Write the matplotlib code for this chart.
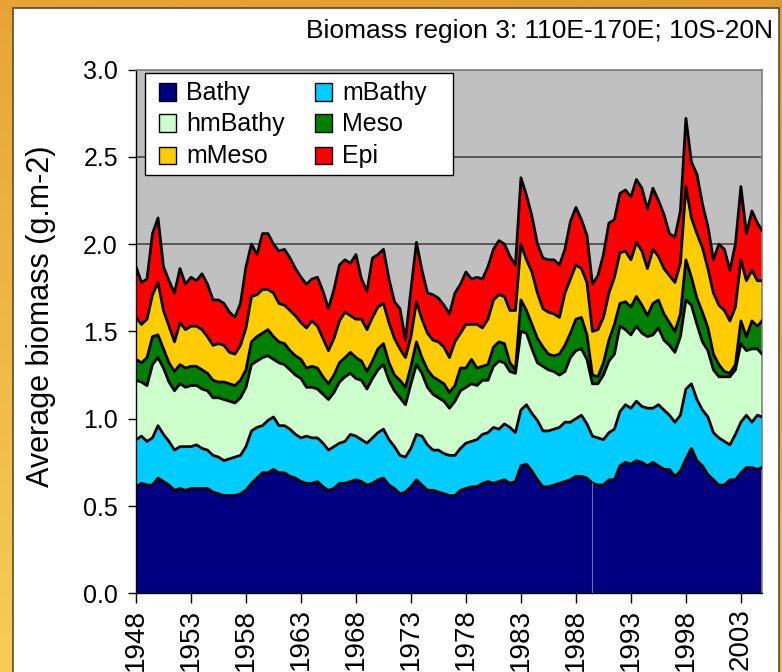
import numpy as np
import matplotlib
matplotlib.use("Agg")
import matplotlib.pyplot as plt
from matplotlib.patches import Rectangle

# ---------------- data (stacked totals, g.m-2) ----------------
years = np.append(np.arange(1948.0, 2005.0, 0.5), 2004 + 11 / 12)

bathy_top = [
    0.61, 0.63, 0.62, 0.62, 0.66, 0.64, 0.62, 0.59, 0.60, 0.59,
    0.60, 0.60, 0.60, 0.60, 0.58, 0.57, 0.56, 0.56, 0.56, 0.57,
    0.59, 0.63, 0.66, 0.69, 0.69, 0.71, 0.69, 0.69, 0.67, 0.66,
    0.64, 0.63, 0.63, 0.64, 0.61, 0.59, 0.60, 0.63, 0.63, 0.64,
    0.65, 0.64, 0.62, 0.63, 0.65, 0.66, 0.62, 0.60, 0.57, 0.58,
    0.61, 0.65, 0.62, 0.59, 0.59, 0.58, 0.57, 0.56, 0.56, 0.59,
    0.60, 0.61, 0.61, 0.63, 0.64, 0.63, 0.64, 0.65, 0.63, 0.64,
    0.73, 0.74, 0.70, 0.65, 0.61, 0.61, 0.62, 0.63, 0.64, 0.65,
    0.67, 0.67, 0.66, 0.63, 0.62, 0.62, 0.65, 0.65, 0.73, 0.75,
    0.74, 0.76, 0.75, 0.73, 0.75, 0.73, 0.71, 0.71, 0.67, 0.70,
    0.77, 0.83, 0.76, 0.73, 0.68, 0.65, 0.62, 0.62, 0.65, 0.65,
    0.69, 0.72, 0.72, 0.71, 0.72]

mbathy_top = [
    0.88, 0.90, 0.87, 0.89, 0.96, 0.91, 0.87, 0.82, 0.84, 0.84,
    0.84, 0.85, 0.83, 0.82, 0.79, 0.78, 0.76, 0.77, 0.78, 0.79,
    0.84, 0.93, 0.95, 0.96, 0.99, 1.01, 0.96, 0.96, 0.94, 0.91,
    0.89, 0.90, 0.89, 0.89, 0.86, 0.82, 0.84, 0.86, 0.87, 0.91,
    0.90, 0.88, 0.86, 0.89, 0.92, 0.94, 0.88, 0.84, 0.79, 0.78,
    0.83, 0.91, 0.90, 0.85, 0.82, 0.82, 0.80, 0.79, 0.79, 0.83,
    0.86, 0.87, 0.88, 0.91, 0.92, 0.95, 0.94, 0.97, 0.95, 0.92,
    1.05, 1.08, 1.03, 0.99, 0.93, 0.93, 0.94, 0.95, 0.98, 0.98,
    1.00, 1.02, 0.97, 0.90, 0.89, 0.88, 0.92, 0.94, 1.04, 1.08,
    1.06, 1.10, 1.07, 1.06, 1.06, 1.08, 1.05, 1.02, 0.98, 1.02,
    1.17, 1.20, 1.11, 1.05, 1.01, 0.92, 0.89, 0.87, 0.85, 0.91,
    0.98, 1.02, 0.98, 1.02, 1.01]

hmbathy_top = [
    1.22, 1.21, 1.19, 1.31, 1.35, 1.29, 1.21, 1.16, 1.20, 1.18,
    1.19, 1.19, 1.17, 1.16, 1.12, 1.12, 1.11, 1.10, 1.09, 1.12,
    1.18, 1.31, 1.33, 1.35, 1.36, 1.34, 1.32, 1.31, 1.28, 1.25,
    1.23, 1.18, 1.18, 1.17, 1.14, 1.11, 1.15, 1.21, 1.24, 1.26,
    1.23, 1.22, 1.17, 1.23, 1.28, 1.31, 1.22, 1.16, 1.12, 1.08,
    1.20, 1.31, 1.26, 1.18, 1.14, 1.12, 1.10, 1.06, 1.10, 1.16,
    1.18, 1.20, 1.19, 1.22, 1.22, 1.30, 1.33, 1.32, 1.27, 1.26,
    1.50, 1.49, 1.40, 1.32, 1.30, 1.28, 1.27, 1.25, 1.27, 1.35,
    1.39, 1.40, 1.34, 1.20, 1.20, 1.25, 1.33, 1.37, 1.53, 1.51,
    1.48, 1.53, 1.49, 1.47, 1.48, 1.52, 1.45, 1.42, 1.38, 1.47,
    1.68, 1.65, 1.54, 1.44, 1.39, 1.28, 1.24, 1.24, 1.24, 1.28,
    1.43, 1.39, 1.40, 1.40, 1.37]

meso_top = [
    1.34, 1.32, 1.35, 1.47, 1.48, 1.40, 1.32, 1.27, 1.31, 1.29,
    1.30, 1.30, 1.28, 1.26, 1.22, 1.21, 1.21, 1.20, 1.19, 1.22,
    1.28, 1.44, 1.47, 1.49, 1.51, 1.47, 1.44, 1.43, 1.39, 1.36,
    1.34, 1.29, 1.30, 1.29, 1.24, 1.20, 1.25, 1.32, 1.35, 1.38,
    1.35, 1.33, 1.27, 1.33, 1.40, 1.43, 1.32, 1.25, 1.22, 1.18,
    1.30, 1.44, 1.35, 1.28, 1.24, 1.22, 1.20, 1.15, 1.19, 1.29,
    1.29, 1.34, 1.29, 1.30, 1.31, 1.41, 1.44, 1.43, 1.32, 1.28,
    1.68, 1.62, 1.54, 1.46, 1.41, 1.37, 1.36, 1.37, 1.42, 1.49,
    1.57, 1.58, 1.48, 1.25, 1.24, 1.32, 1.45, 1.54, 1.66, 1.67,
    1.64, 1.70, 1.65, 1.59, 1.66, 1.68, 1.60, 1.55, 1.50, 1.60,
    1.91, 1.81, 1.69, 1.61, 1.52, 1.37, 1.31, 1.27, 1.26, 1.31,
    1.56, 1.47, 1.56, 1.53, 1.56]

mmeso_top = [
    1.58, 1.54, 1.57, 1.71, 1.78, 1.62, 1.53, 1.44, 1.55, 1.51,
    1.53, 1.53, 1.51, 1.47, 1.42, 1.43, 1.42, 1.38, 1.37, 1.42,
    1.52, 1.70, 1.71, 1.74, 1.74, 1.72, 1.66, 1.65, 1.62, 1.59,
    1.55, 1.52, 1.56, 1.53, 1.46, 1.39, 1.46, 1.56, 1.61, 1.59,
    1.57, 1.57, 1.51, 1.58, 1.64, 1.66, 1.55, 1.46, 1.40, 1.35,
    1.47, 1.67, 1.57, 1.49, 1.45, 1.44, 1.41, 1.35, 1.44, 1.49,
    1.54, 1.54, 1.54, 1.52, 1.57, 1.68, 1.71, 1.70, 1.62, 1.62,
    2.00, 1.91, 1.84, 1.72, 1.63, 1.61, 1.60, 1.58, 1.72, 1.80,
    1.88, 1.86, 1.78, 1.50, 1.51, 1.58, 1.72, 1.81, 1.95, 1.96,
    1.91, 2.01, 1.96, 1.86, 1.97, 1.93, 1.86, 1.82, 1.78, 1.89,
    2.33, 2.15, 2.06, 1.98, 1.86, 1.72, 1.65, 1.62, 1.56, 1.64,
    1.91, 1.79, 1.85, 1.79, 1.79]

epi_top = [
    1.87, 1.78, 1.80, 2.06, 2.15, 1.87, 1.79, 1.72, 1.86, 1.77,
    1.81, 1.79, 1.83, 1.77, 1.68, 1.68, 1.66, 1.61, 1.58, 1.66,
    1.87, 2.00, 1.94, 2.06, 2.06, 2.00, 1.96, 1.97, 1.92, 1.86,
    1.81, 1.77, 1.80, 1.81, 1.73, 1.63, 1.74, 1.88, 1.91, 1.89,
    1.94, 1.80, 1.73, 1.92, 1.94, 1.97, 1.80, 1.67, 1.63, 1.45,
    1.74, 2.01, 1.85, 1.72, 1.71, 1.69, 1.65, 1.60, 1.72, 1.77,
    1.84, 1.80, 1.81, 1.80, 1.87, 1.97, 2.02, 2.00, 1.93, 1.88,
    2.38, 2.28, 2.16, 2.00, 1.92, 1.91, 1.91, 1.88, 1.97, 2.13,
    2.21, 2.14, 2.05, 1.77, 1.82, 1.94, 2.12, 2.14, 2.29, 2.31,
    2.27, 2.37, 2.32, 2.20, 2.32, 2.25, 2.17, 2.06, 2.04, 2.19,
    2.72, 2.47, 2.40, 2.23, 2.10, 1.91, 2.00, 1.97, 1.85, 2.00,
    2.33, 2.06, 2.19, 2.12, 2.08]

series_names = ["Bathy", "mBathy", "hmBathy", "Meso", "mMeso", "Epi"]
series_colors = ["#000080", "#00CCFF", "#CCFFCC", "#008000", "#FFCC00", "#FF0000"]

y_ticks = [0.0, 0.5, 1.0, 1.5, 2.0, 2.5, 3.0]
x_ticks = list(range(1948, 2004, 5))
title_text = "Biomass region 3: 110E-170E; 10S-20N"
ylabel_text = "Average biomass (g.m-2)"

# ---------------- derive series ----------------
tops = np.array([bathy_top, mbathy_top, hmbathy_top, meso_top, mmeso_top, epi_top])
layers = np.diff(np.vstack([np.zeros(len(years)), tops]), axis=0)

FONT = ["Liberation Sans", "DejaVu Sans"]
plt.rcParams["font.family"] = FONT

W, H = 782, 672
fig = plt.figure(figsize=(W / 100, H / 100), dpi=100)


def fx(x):
    return x / W


def fy(y):
    return (H - y) / H


# orange background (simple gradient)
bg = fig.add_axes([0, 0, 1, 1], zorder=-10)
bg.axis("off")
yy, xx = np.mgrid[0:1:120j, 0:1:120j]
c_dark = np.array([0.89, 0.60, 0.17])
c_light = np.array([0.97, 0.80, 0.34])
t = np.clip(0.55 * yy + 0.45 * (1 - xx) * (0.5 + 0.5 * yy), 0, 1)
img = c_dark[None, None, :] * (1 - t[..., None]) + c_light[None, None, :] * t[..., None]
bg.imshow(img, aspect="auto", extent=[0, 1, 0, 1], interpolation="bilinear")
bg.set_xlim(0, 1)
bg.set_ylim(0, 1)

# white panel
fig.patches.append(Rectangle((fx(13), -0.01), fx(779) - fx(13), fy(8) + 0.01,
                             transform=fig.transFigure, facecolor="white",
                             edgecolor="#5a4a30", linewidth=1.2, zorder=-5))

# main axes
y0px, y3px = 593.3, 69.5
ax = fig.add_axes([fx(136), fy(y0px), fx(762) - fx(136), (y0px - y3px) / H])
ax.set_facecolor("#C0C0C0")
ax.set_axisbelow(True)
ax.yaxis.grid(True, color="#505050", linewidth=1.3)

ax.stackplot(years, layers, colors=series_colors, linewidth=0, zorder=2)
cum = np.cumsum(layers, axis=0)
for row in cum:
    ax.plot(years, row, color="black", linewidth=2.0, zorder=3, solid_joinstyle="round")

# faint vertical rendering artefact seen in the reference
art_x = 1989.5
art_i = int(np.argmin(np.abs(years - art_x)))
ax.plot([art_x, art_x], [0, cum[0][art_i]], color="#6a6ab0", linewidth=0.8, zorder=4)

ax.set_xlim(years[0], years[-1])
ax.set_ylim(0, 3.0)
ax.set_yticks(y_ticks)
ax.set_yticklabels([f"{v:.1f}" for v in y_ticks])
ax.set_xticks(x_ticks)
ax.set_xticklabels([str(v) for v in x_ticks], rotation=90)
ax.tick_params(axis="y", direction="out", length=6, width=1, pad=7, labelsize=18)
ax.tick_params(axis="x", direction="out", length=7, width=1, pad=4, labelsize=20)
for lab in ax.get_xticklabels():
    lab.set_va("top")

for side in ["top", "right"]:
    ax.spines[side].set_color("#808080")
    ax.spines[side].set_linewidth(1.2)
for side in ["left", "bottom"]:
    ax.spines[side].set_color("black")
    ax.spines[side].set_linewidth(1.0)

# title and y label
fig.text(fx(773), fy(31), title_text, ha="right", va="center", fontsize=19)
fig.text(fx(41), fy(316), ylabel_text, rotation=90, ha="center", va="center", fontsize=22)

# legend (drawn manually to match the Excel layout)
fig.patches.append(Rectangle((fx(145), fy(175)), fx(453) - fx(145), fy(73) - fy(175),
                             transform=fig.transFigure, facecolor="white",
                             edgecolor="black", linewidth=1.0, zorder=5))
col_x = [159, 315]
row_y = [92, 123, 155]
for k, (name, col) in enumerate(zip(series_names, series_colors)):
    r, c = k // 2, k % 2
    hx, hy = col_x[c], row_y[r]
    fig.patches.append(Rectangle((fx(hx), fy(hy + 8.5)), 17 / W, 17 / H,
                                 transform=fig.transFigure, facecolor=col,
                                 edgecolor="black", linewidth=1.0, zorder=6))
    fig.text(fx(hx + 27), fy(hy + 1), name, ha="left", va="center",
             fontsize=18, zorder=7)

fig.savefig("out.png", dpi=100)
